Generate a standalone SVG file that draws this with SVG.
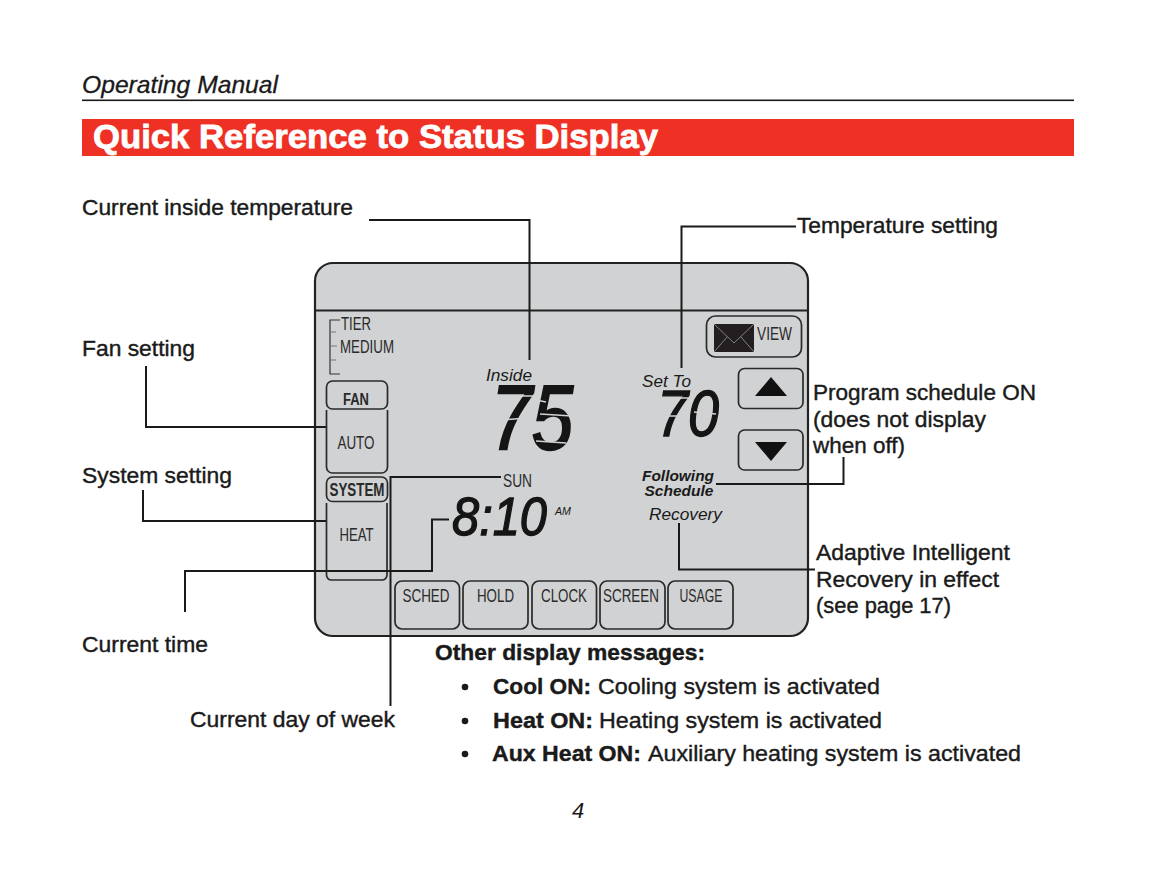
<svg xmlns="http://www.w3.org/2000/svg" width="1155" height="892" viewBox="0 0 1155 892">
<style>
text{font-family:"Liberation Sans",Arial,sans-serif;fill:#1a1a1a}
.l{font-size:22.5px;stroke:#1a1a1a;stroke-width:.4px}
.b{font-weight:700}
.i{font-style:italic}
.k{font-size:17.5px;fill:#2a2a2a}
.btn{fill:none;stroke:#2a2a2a;stroke-width:1.7}
.c{fill:none;stroke:#1a1a1a;stroke-width:2}
.d{font-style:italic;fill:#151515;stroke:#151515}
.g{fill:none;stroke:#d1d2d3;stroke-width:1.5}
</style>
<rect width="1155" height="892" fill="#fff"/>
<g id="header">
<text x="82" y="93" class="i" font-size="24" textLength="196" lengthAdjust="spacingAndGlyphs" stroke="#1a1a1a" stroke-width=".3">Operating Manual</text>
<rect x="82" y="99.500" width="992" height="1.600" fill="#1a1a1a"/>
<rect x="82" y="119" width="992" height="37" fill="#ee3124"/>
<text x="93" y="148" class="b" font-size="33" style="fill:#fff" stroke="#fff" stroke-width=".8" textLength="565" lengthAdjust="spacingAndGlyphs">Quick Reference to Status Display</text>
</g>
<g id="panel">
<rect x="315" y="263" width="493" height="373" rx="18" fill="#d1d2d3" stroke="#222" stroke-width="2.200"/>
<path d="M315 310.500H808" fill="none" stroke="#222" stroke-width="2"/>
</g>
<g id="tier">
<path d="M340 320H330V374H340" fill="none" stroke="#333" stroke-width="1.200"/>
<path d="M330 332H336M330 346H337M330 360H336" fill="none" stroke="#777" stroke-width="1"/>
<text x="341" y="330" class="k" textLength="30" lengthAdjust="spacingAndGlyphs">TIER</text>
<text x="340" y="353" class="k" textLength="54" lengthAdjust="spacingAndGlyphs">MEDIUM</text>
</g>
<g id="fan">
<rect x="326.500" y="381" width="61" height="28" rx="6" class="btn"/>
<text x="356" y="405" class="k b" text-anchor="middle" textLength="26" lengthAdjust="spacingAndGlyphs" style="font-size:16px">FAN</text>
</g>
<g id="auto">
<path d="M326.500 410V467a6 6 0 0 0 6 6H381.500a6 6 0 0 0 6-6V410" class="btn"/>
<text x="356" y="449" class="k" text-anchor="middle" textLength="37" lengthAdjust="spacingAndGlyphs">AUTO</text>
</g>
<g id="system">
<rect x="326.500" y="477" width="61" height="24.500" rx="6" class="btn"/>
<text x="357" y="496" class="k b" text-anchor="middle" textLength="55" lengthAdjust="spacingAndGlyphs">SYSTEM</text>
</g>
<g id="heat">
<path d="M326.500 503V575a5 5 0 0 0 5 5H382a5 5 0 0 0 5-5V503" class="btn"/>
<text x="356.500" y="541" class="k" text-anchor="middle" textLength="34" lengthAdjust="spacingAndGlyphs">HEAT</text>
</g>
<g id="sched"><rect x="395" y="581" width="64.500" height="48" rx="7" class="btn"/><text x="426" y="602" class="k" text-anchor="middle" textLength="47" lengthAdjust="spacingAndGlyphs">SCHED</text></g>
<g id="hold"><rect x="463" y="581" width="65" height="48" rx="7" class="btn"/><text x="495.500" y="602" class="k" text-anchor="middle" textLength="37" lengthAdjust="spacingAndGlyphs">HOLD</text></g>
<g id="clock"><rect x="532" y="581" width="64.500" height="48" rx="7" class="btn"/><text x="564" y="602" class="k" text-anchor="middle" textLength="46" lengthAdjust="spacingAndGlyphs">CLOCK</text></g>
<g id="screen"><rect x="600" y="581" width="65" height="48" rx="7" class="btn"/><text x="631" y="602" class="k" text-anchor="middle" textLength="56" lengthAdjust="spacingAndGlyphs">SCREEN</text></g>
<g id="usage"><rect x="668" y="581" width="65" height="48" rx="7" class="btn"/><text x="701" y="602" class="k" text-anchor="middle" textLength="43" lengthAdjust="spacingAndGlyphs">USAGE</text></g>
<g id="view">
<rect x="706.500" y="316" width="95" height="41" rx="9" class="btn"/>
<rect x="714" y="324" width="40" height="28" fill="#231f20"/>
<path d="M714 324L734 343L754 324M714 352L727 337M754 352L741 337" fill="none" stroke="#9a9a9a" stroke-width=".8"/>
<text x="757" y="340" class="k" textLength="35" lengthAdjust="spacingAndGlyphs">VIEW</text>
</g>
<g id="up"><rect x="738.500" y="368.500" width="64.500" height="40" rx="6" class="btn"/><path d="M771 377L787 396H755Z" fill="#111"/></g>
<g id="down"><rect x="738.500" y="430" width="64.500" height="40" rx="6" class="btn"/><path d="M755 442H787L771 461Z" fill="#111"/></g>
<g id="readouts">
<text x="486" y="381" class="i" font-size="17" textLength="46" lengthAdjust="spacingAndGlyphs">Inside</text>
<text x="642" y="387" class="i" font-size="17" textLength="49" lengthAdjust="spacingAndGlyphs">Set To</text>
<text x="491" y="449" class="d" font-size="90" stroke-width="2.400" textLength="82" lengthAdjust="spacingAndGlyphs">75</text>
<text x="657" y="436" class="d" font-size="65" stroke-width="1.400" textLength="62" lengthAdjust="spacingAndGlyphs">70</text>
<text x="452" y="535" class="d" font-size="53" stroke-width="1.300" textLength="95" lengthAdjust="spacingAndGlyphs">8:10</text>
<path class="g" d="M493 396L533 396M501 420L527 418M536 400L546 402M540 414L572 416M536 441L566 443"/>
<path class="g" d="M663 398L689 398M668 416L686 416M694 412L716 414M690 398L696 392"/>
<text x="555" y="515" class="i" font-size="11" textLength="16" lengthAdjust="spacingAndGlyphs">AM</text>
<text x="503" y="487" class="k" textLength="29" lengthAdjust="spacingAndGlyphs">SUN</text>
<text x="678" y="481" class="b i" font-size="15" text-anchor="middle" textLength="72" lengthAdjust="spacingAndGlyphs">Following</text>
<text x="679" y="496" class="b i" font-size="15" text-anchor="middle" textLength="69" lengthAdjust="spacingAndGlyphs">Schedule</text>
<text x="649" y="520" class="i" font-size="17" textLength="73" lengthAdjust="spacingAndGlyphs">Recovery</text>
</g>
<g id="connectors">
<path class="c" d="M369 220H529.500V360"/>
<path class="c" d="M796 226.500H681.500V368"/>
<path class="c" d="M146 366V427H326"/>
<path class="c" d="M143 490V521H326"/>
<path class="c" d="M185 612V571H432V519.500H449"/>
<path class="c" d="M390.500 706V477H501"/>
<path class="c" d="M716 484H843.500V457"/>
<path class="c" d="M679 523V569.500H815"/>
</g>
<g id="labels">
<text x="82" y="215" class="l" textLength="271" lengthAdjust="spacingAndGlyphs">Current inside temperature</text>
<text x="797" y="233" class="l" textLength="201" lengthAdjust="spacingAndGlyphs">Temperature setting</text>
<text x="82" y="356" class="l" textLength="113" lengthAdjust="spacingAndGlyphs">Fan setting</text>
<text x="82" y="483" class="l" textLength="150" lengthAdjust="spacingAndGlyphs">System setting</text>
<text x="82" y="652" class="l" textLength="126" lengthAdjust="spacingAndGlyphs">Current time</text>
<text x="190" y="727" class="l" textLength="205" lengthAdjust="spacingAndGlyphs">Current day of week</text>
<text x="813" y="400" class="l" textLength="223" lengthAdjust="spacingAndGlyphs">Program schedule ON</text>
<text x="813" y="427" class="l" textLength="173" lengthAdjust="spacingAndGlyphs">(does not display</text>
<text x="813" y="453" class="l" textLength="92" lengthAdjust="spacingAndGlyphs">when off)</text>
<text x="816" y="560" class="l" textLength="194" lengthAdjust="spacingAndGlyphs">Adaptive Intelligent</text>
<text x="816" y="587" class="l" textLength="183" lengthAdjust="spacingAndGlyphs">Recovery in effect</text>
<text x="816" y="613" class="l" textLength="135" lengthAdjust="spacingAndGlyphs">(see page 17)</text>
</g>
<g id="messages">
<text x="435" y="660" class="l b" textLength="270" lengthAdjust="spacingAndGlyphs">Other display messages:</text>
<circle cx="465" cy="687" r="3.300" fill="#1a1a1a"/>
<circle cx="465" cy="721" r="3.300" fill="#1a1a1a"/>
<circle cx="465" cy="754" r="3.300" fill="#1a1a1a"/>
<text x="493" y="694" class="l b" textLength="98" lengthAdjust="spacingAndGlyphs">Cool ON:</text>
<text x="598" y="694" class="l" textLength="282" lengthAdjust="spacingAndGlyphs">Cooling system is activated</text>
<text x="493" y="728" class="l b" textLength="100" lengthAdjust="spacingAndGlyphs">Heat ON:</text>
<text x="599" y="728" class="l" textLength="283" lengthAdjust="spacingAndGlyphs">Heating system is activated</text>
<text x="492" y="761" class="l b" textLength="149" lengthAdjust="spacingAndGlyphs">Aux Heat ON:</text>
<text x="648" y="761" class="l" textLength="373" lengthAdjust="spacingAndGlyphs">Auxiliary heating system is activated</text>
<text x="578" y="818" class="i" font-size="22" text-anchor="middle">4</text>
</g>
</svg>
